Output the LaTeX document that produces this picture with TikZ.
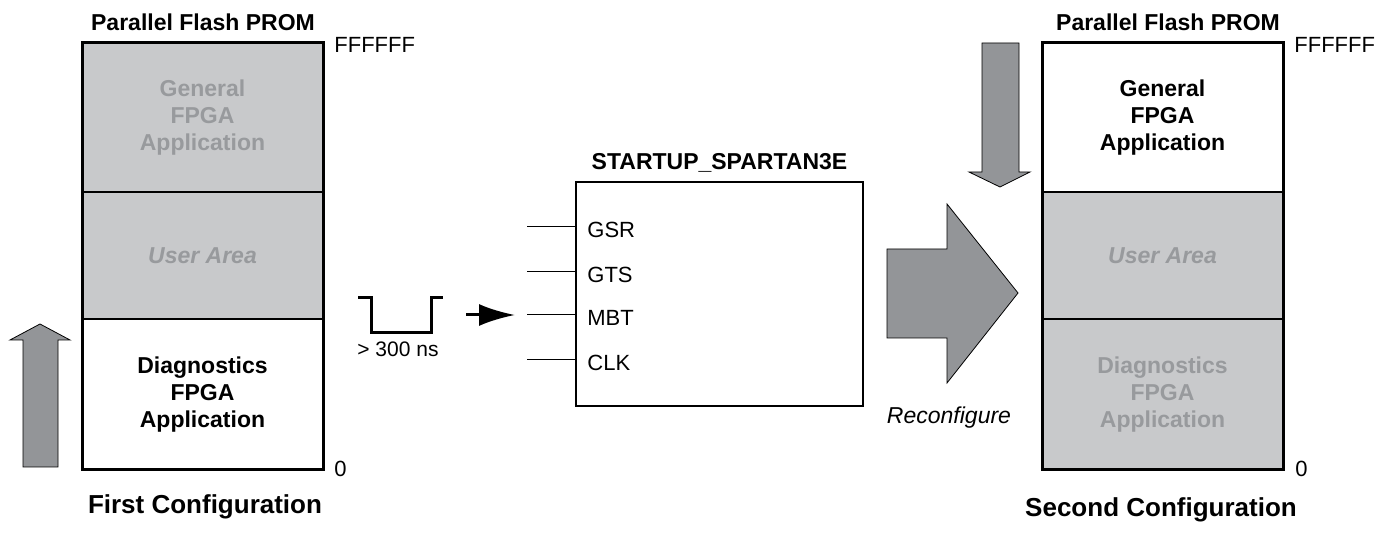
\documentclass[tikz,border=0pt]{standalone}
\usepackage{fontspec}
\setmainfont{Liberation Sans}
\usetikzlibrary{positioning,arrows.meta}
\definecolor{promgray}{RGB}{200,201,203}
\definecolor{arrowgray}{RGB}{147,149,152}
\definecolor{fadedtext}{RGB}{152,154,157}
\tikzset{
  memsec/.style={draw,line width=0.5pt,minimum width=120pt,inner sep=0pt,align=center,
    font=\fontsize{11.5}{13.5}\selectfont\bfseries},
  tallsec/.style={minimum height=74.5pt},
  shortsec/.style={minimum height=63pt},
  faded/.style={fill=promgray,text=fadedtext},
  heading/.style={font=\fontsize{11.5}{13.5}\selectfont\bfseries,inner sep=0pt,anchor=base},
  caption/.style={font=\fontsize{13}{15}\selectfont\bfseries,inner sep=0pt,anchor=base},
  addr/.style={font=\fontsize{11}{13}\selectfont,inner sep=0pt,anchor=base west},
  pinlabel/.style={font=\fontsize{11}{13}\selectfont,inner sep=0pt,anchor=west},
  bigarrow/.style={fill=arrowgray,draw=black,line width=0.4pt},
}
\newcommand{\startuppin}[3]{\coordinate (#1in) at (527,#2);
  \draw[line width=0.5pt] (#1in) -- (#1in -| startup.west);
  \node[pinlabel] (#1) at (587,#2+2.5) {#3}}

\begin{document}
\begin{tikzpicture}[x=0.5pt,y=-0.5pt]
\useasboundingbox (0,0) rectangle (1394,555);

% first configuration
\node[memsec,tallsec,faded] (lgen) at (202.5,117.5) {General\\FPGA\\Application};
\node[memsec,shortsec,faded,below=0pt of lgen] (luser) {\itshape User Area};
\node[memsec,tallsec,fill=white,below=0pt of luser] (ldiag) {Diagnostics\\FPGA\\Application};
\draw[line width=1.5pt] (lgen.north west) rectangle (ldiag.south east);
\node[heading] (ltitle) at (203,31) {Parallel Flash PROM};
\node[addr] (ltop) at (334,53) {FFFFFF};
\node[addr] (lbot) at (334,477) {0};
\node[caption] (lcap) at (205,514) {First Configuration};
\draw[bigarrow] (23,467) -- (23,340) -- (10,340) -- (40,324) -- (70,340) -- (58,340) -- (58,467) -- cycle;

% pulse on MBT
\draw[line width=1.5pt] (358,298) -- (371,298) -- (371,333) -- (431,333) -- (431,298) -- (443,298);
\node[addr,font=\fontsize{10.5}{12}\selectfont] (pulse) at (357,357) {> 300 ns};
\coordinate (pulseout) at (466,315);
\coordinate (pulsetip) at (515,315);
\draw[line width=1.5pt,-{Latex[length=18pt,width=11pt]}] (pulseout) -- (pulsetip);

% startup primitive
\node[draw,line width=1pt,minimum width=143.5pt,minimum height=112pt,inner sep=0pt] (startup) at (719.5,294) {};
\node[heading] (stitle) at (719.5,170) {STARTUP\_SPARTAN3E};
\startuppin{gsr}{227}{GSR};
\startuppin{gts}{272}{GTS};
\startuppin{mbt}{315}{MBT};
\startuppin{clk}{360}{CLK};

% reconfigure
\draw[bigarrow] (887,249) -- (947,249) -- (947,204) -- (1018,293) -- (947,383) -- (947,338) -- (887,338) -- cycle;
\node[font=\fontsize{11.5}{13.5}\selectfont\itshape,inner sep=0pt,anchor=base] (reconf) at (949,424) {Reconfigure};

% second configuration
\node[memsec,tallsec,fill=white] (rgen) at (1162.5,117.5) {General\\FPGA\\Application};
\node[memsec,shortsec,faded,below=0pt of rgen] (ruser) {\itshape User Area};
\node[memsec,tallsec,faded,below=0pt of ruser] (rdiag) {Diagnostics\\FPGA\\Application};
\draw[line width=1.5pt] (rgen.north west) rectangle (rdiag.south east);
\node[heading] (rtitle) at (1168,31) {Parallel Flash PROM};
\node[addr] (rtop) at (1294,53) {FFFFFF};
\node[addr] (rbot) at (1295,477) {0};
\node[caption] (rcap) at (1161,517) {Second Configuration};
\draw[bigarrow] (982,43) -- (1019,43) -- (1019,172) -- (1030,172) -- (1000,187) -- (969,172) -- (982,172) -- cycle;
\end{tikzpicture}
\end{document}
